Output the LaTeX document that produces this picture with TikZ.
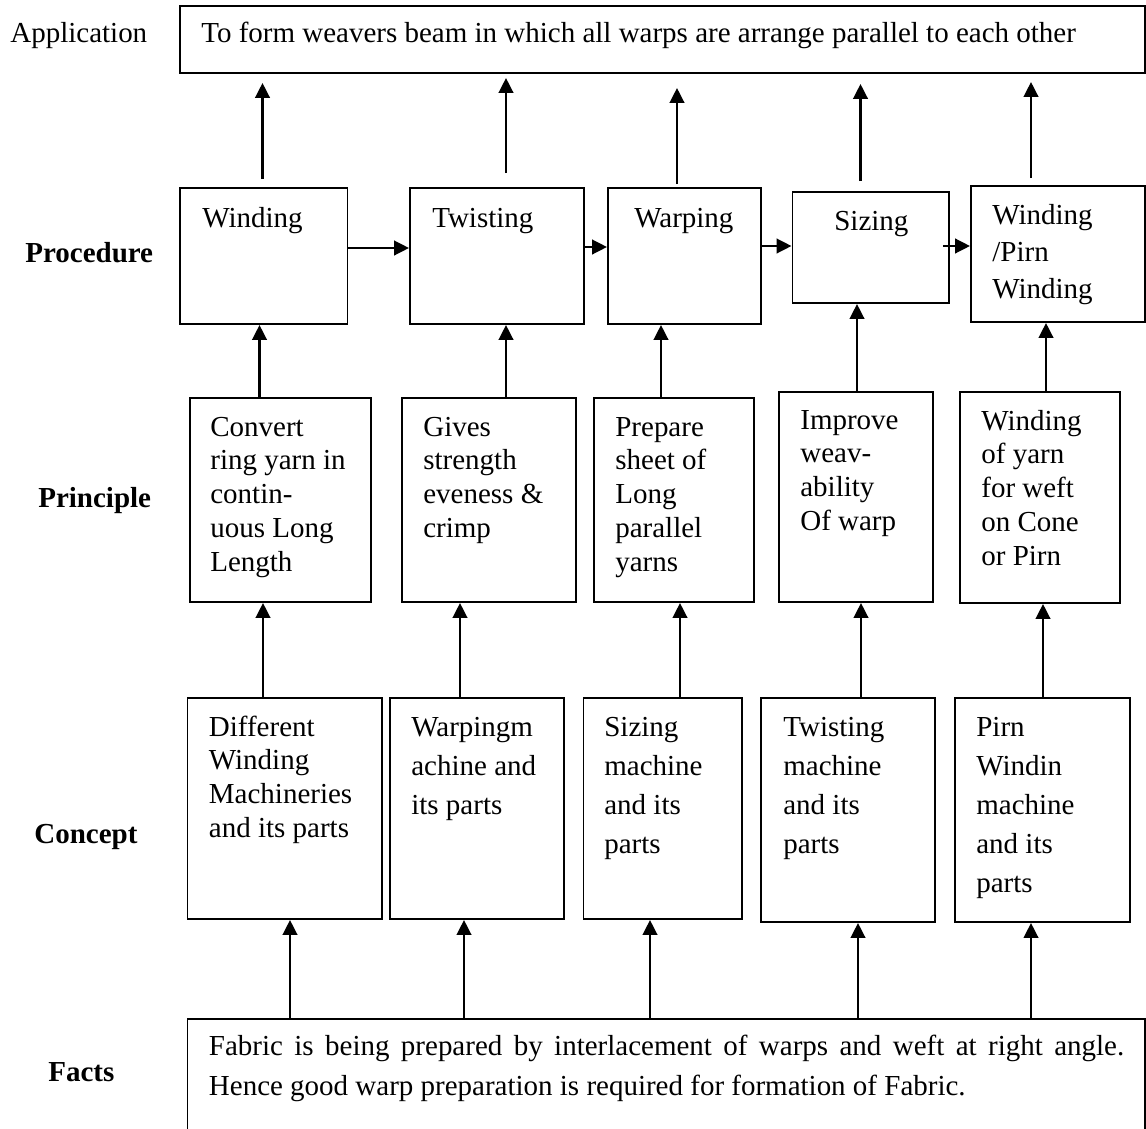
\documentclass[tikz,border=0pt]{standalone}
\usepackage{fontspec}
\setmainfont{Liberation Serif}
\usetikzlibrary{arrows.meta}
\usetikzlibrary{fit}

\begin{document}
\begin{tikzpicture}[
                x=0.02cm, y=-0.02cm,
                box/.style={draw, line width=1.1pt, inner sep=0pt},
                txt/.style={anchor=base west, inner sep=0pt, font=\fontsize{16.5}{19.3}\selectfont},
                side/.style={txt, font=\fontsize{16.5}{19.3}\selectfont\bfseries},
                wide/.style={font=\fontsize{16.5}{22.3}\selectfont},
                arr/.style={line width=1.5pt, -{Triangle[length=0.3cm, width=0.29cm]}} ]

            \useasboundingbox (0,0) rectangle (1146,1129);

            \node[txt] (lapp) at (10,42) {Application};
            \node[side] (lproc) at (25,262) {Procedure};
            \node[side] (lprin) at (38,507) {Principle};
            \node[side] (lconc) at (34,843) {Concept};
            \node[side] (lfact) at (48,1081) {Facts};

            \foreach \n/\a/\b/\c/\d in {
                    app/180/6/1145/73,
                    pw1/180/188/347.5/324, pw2/410/188/584/324, pw3/608/188/761/324,
                    pw4/792.5/192/949/303, pw5/971/186/1145/322,
                    pr1/190/398/371/602, pr2/402/398/576/602, pr3/594/398/754/602,
                    pr4/779/392/933/602, pr5/960/392/1120/603,
                    c1/187.5/698/382/919, c2/389.6/698/564/919, c3/583.5/698/742/919,
                    c4/761/698/935/922, c5/955/698/1130/922,
                    facts/187.5/1019/1145/1140
                } {
                    \node[box, fit={(\a,\b) (\c,\d)}] (\n) {};
                }

            \node[txt] (tapp) at (201,42) {To form weavers beam in which all warps are arrange parallel to each other};

            \node[txt] (tpw1) at (202,227) {Winding};
            \node[txt] (tpw2) at (432,227) {Twisting};
            \node[txt] (tpw3) at (634,227) {Warping};
            \node[txt] (tpw4) at (834,230) {Sizing};
            \node[txt, font=\fontsize{16.5}{21.3}\selectfont] (tpw5) at (992,224)
                {\parbox[t]{4cm}{Winding\\/Pirn\\Winding}};

            \node[txt] (tpr1) at (210,436) {\parbox[t]{4cm}{Convert\\ring yarn in\\contin-\\uous Long\\Length}};
            \node[txt] (tpr2) at (423,436) {\parbox[t]{4cm}{Gives\\strength\\eveness \&\\crimp}};
            \node[txt] (tpr3) at (615,436) {\parbox[t]{4cm}{Prepare\\sheet of\\Long\\parallel\\yarns}};
            \node[txt] (tpr4) at (800,429) {\parbox[t]{4cm}{Improve\\weav-\\ability\\Of warp}};
            \node[txt] (tpr5) at (981,430) {\parbox[t]{4cm}{Winding\\of yarn\\for weft\\on Cone\\or Pirn}};

            \node[txt] (tc1) at (208.6,736) {\parbox[t]{4cm}{Different\\Winding\\Machineries\\and its parts}};
            \node[txt, wide] (tc2) at (411,736) {\parbox[t]{4cm}{Warpingm\\achine and\\its parts}};
            \node[txt, wide] (tc3) at (604,736) {\parbox[t]{4cm}{Sizing\\machine\\and its\\parts}};
            \node[txt, wide] (tc4) at (783,736) {\parbox[t]{4cm}{Twisting\\machine\\and its\\parts}};
            \node[txt, wide] (tc5) at (976,736) {\parbox[t]{4cm}{Pirn\\Windin\\machine\\and its\\parts}};

            \node[txt, font=\fontsize{16.5}{22.8}\selectfont] (tfacts) at (208.6,1055)
                {\parbox[t]{18.31cm}{\makebox[\linewidth][s]{Fabric is being prepared by interlacement of warps and weft at right angle.}\\Hence good warp preparation is required for formation of Fabric.}};

            \foreach \n/\x/\s/\e in {pw1/262.5/0.16cm/0.18cm, pw2/506/0.28cm/0.08cm, pw3/677/0.06cm/0.28cm,
                    pw4/860.5/0.2cm/0.2cm, pw5/1031/0.14cm/0.16cm} {
                    \draw[arr, shorten <=\s, shorten >=\e] (\n.north -| \x,0) -- (app.south -| \x,0);
                }

            \foreach \a/\b/\x in {pr1/pw1/259.5, pr2/pw2/506, pr3/pw3/661, pr4/pw4/857, pr5/pw5/1046,
                    c1/pr1/263, c2/pr2/460, c3/pr3/680, c4/pr4/861, c5/pr5/1043,
                    facts/c1/290, facts/c2/464, facts/c3/650, facts/c4/858, facts/c5/1031} {
                    \draw[arr] (\a.north -| \x,0) -- (\b.south -| \x,0);
                }

            \foreach \a/\b/\y in {pw1/pw2/248, pw2/pw3/247, pw3/pw4/246} {
                    \draw[arr] (\a.east |- 0,\y) -- (\b.west |- 0,\y);
                }
            \draw[arr, shorten <=-0.14cm] (pw4.east |- 0,246) -- (pw5.west |- 0,246);

        \end{tikzpicture}
\end{document}
